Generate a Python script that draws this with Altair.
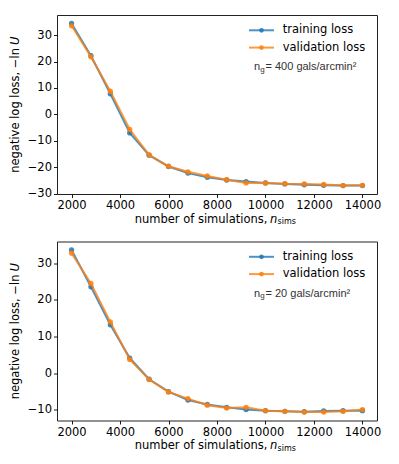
import altair as alt
import pandas as pd

# ---------------- data ----------------
n_sims = [2000, 2800, 3600, 4400, 5200, 6000, 6800, 7600, 8400, 9200,
          10000, 10800, 11600, 12400, 13200, 14000]

train_400 = [34.4, 22.2, 7.8, -7.0, -15.4, -19.7, -22.2, -23.8, -24.8, -25.4,
             -25.9, -26.3, -26.6, -26.8, -26.9, -26.9]
valid_400 = [33.5, 21.8, 8.8, -5.7, -15.3, -19.6, -21.7, -23.3, -24.7, -25.9,
             -25.9, -26.2, -26.3, -26.5, -26.9, -26.8]

train_20 = [33.7, 23.6, 13.2, 4.1, -1.7, -5.1, -7.4, -8.6, -9.4, -10.0,
            -10.3, -10.5, -10.6, -10.4, -10.3, -10.3]
valid_20 = [32.8, 24.5, 14.0, 3.7, -1.8, -5.2, -7.0, -8.8, -9.6, -9.4,
            -10.3, -10.5, -10.7, -10.7, -10.5, -10.0]

series_names = ["training loss", "validation loss"]
series_colors = ["#1f77b4", "#ff7f0e"]

x_ticks = [2000, 4000, 6000, 8000, 10000, 12000, 14000]
y_ticks_400 = [-30, -20, -10, 0, 10, 20, 30]
y_ticks_20 = [-10, 0, 10, 20, 30]

W, H = 320, 179
FONT = "DejaVu Sans"
FS = 11.5


def one(d):
    return pd.DataFrame([d])


def axis(vals):
    return alt.Axis(values=vals, format="d", title=None, grid=False, domain=False,
                    tickColor="black", tickSize=3.5, tickWidth=0.9,
                    labelFont=FONT, labelFontSize=FS, labelColor="black", labelPadding=2)


def panel(train, valid, y_domain, y_ticks, ng_value):
    df = pd.DataFrame({
        "n": n_sims * 2,
        "loss": train + valid,
        "series": [series_names[0]] * len(n_sims) + [series_names[1]] * len(n_sims),
    })
    x = alt.X("n:Q", scale=alt.Scale(domain=[1400, 14600], nice=False, zero=False),
              axis=axis(x_ticks))
    y = alt.Y("loss:Q", scale=alt.Scale(domain=y_domain, nice=False, zero=False),
              axis=axis(y_ticks))
    color = alt.Color("series:N", scale=alt.Scale(domain=series_names, range=series_colors),
                      legend=None)
    base = alt.Chart(df).encode(x=x, y=y, color=color, order=alt.Order("n:Q"))
    layers = []
    for s in series_names:
        sub = base.transform_filter(alt.datum.series == s)
        layers.append(sub.mark_line(strokeWidth=2, opacity=0.8))
        layers.append(sub.mark_point(filled=True, size=28, opacity=0.85))

    # legend (manual)
    leg_y = [15.3, 32.6]
    for name, col, yy in zip(series_names, series_colors, leg_y):
        layers.append(alt.Chart(one({"a": 1})).mark_rule(color=col, strokeWidth=2, opacity=0.8)
                      .encode(x=alt.value(192), x2=alt.value(217), y=alt.value(yy)))
        layers.append(alt.Chart(one({"a": 1})).mark_point(filled=True, size=22, color=col, opacity=0.85)
                      .encode(x=alt.value(204.5), y=alt.value(yy)))
        layers.append(alt.Chart(one({"t": name})).mark_text(align="left", baseline="middle",
                                                              font=FONT, fontSize=FS, color="black")
                      .encode(x=alt.value(225.7), y=alt.value(yy), text="t:N"))

    # n_g annotation
    ax = 197
    ay = 52
    layers.append(alt.Chart(one({"t": "n"})).mark_text(align="left", baseline="middle",
                                                     font="Liberation Sans", fontSize=11, color="#333")
                  .encode(x=alt.value(ax), y=alt.value(ay), text="t:N"))
    layers.append(alt.Chart(one({"t": "g"})).mark_text(align="left", baseline="middle",
                                                     font="Liberation Sans", fontSize=8, color="#333")
                  .encode(x=alt.value(ax + 6.2), y=alt.value(ay + 2.5), text="t:N"))
    layers.append(alt.Chart(one({"t": f"= {ng_value} gals/arcmin\u00b2"})).mark_text(
        align="left", baseline="middle", font="Liberation Sans", fontSize=11, color="#333")
                  .encode(x=alt.value(ax + 11.5), y=alt.value(ay), text="t:N"))

    # x title
    xt_y = H + 25.5
    layers.append(alt.Chart(one({"t": "number of simulations,"})).mark_text(
        align="right", baseline="middle", font=FONT, fontSize=FS, color="black")
                  .encode(x=alt.value(210.5), y=alt.value(xt_y), text="t:N"))
    layers.append(alt.Chart(one({"t": "n"})).mark_text(
        align="left", baseline="middle", font=FONT, fontSize=FS, fontStyle="italic", color="black")
                  .encode(x=alt.value(213), y=alt.value(xt_y), text="t:N"))
    layers.append(alt.Chart(one({"t": "sims"})).mark_text(
        align="left", baseline="middle", font=FONT, fontSize=8, color="black")
                  .encode(x=alt.value(220.5), y=alt.value(xt_y + 2.5), text="t:N"))

    # y title (rotated)
    yt_x = -41
    layers.append(alt.Chart(one({"t": "negative log loss, \u2212ln"})).mark_text(
        align="right", baseline="middle", angle=270, font=FONT, fontSize=FS, color="black")
                  .encode(x=alt.value(yt_x), y=alt.value(33.0), text="t:N"))
    layers.append(alt.Chart(one({"t": "U"})).mark_text(
        align="right", baseline="middle", angle=270, font=FONT, fontSize=FS, fontStyle="italic",
        color="black")
                  .encode(x=alt.value(yt_x), y=alt.value(21.5), text="t:N"))

    return alt.layer(*layers).properties(width=W, height=H)


top = panel(train_400, valid_400, [-30.1, 37.6], y_ticks_400, 400)
bottom = panel(train_20, valid_20, [-13.0, 36.0], y_ticks_20, 20)

chart = alt.vconcat(top, bottom, spacing=13.5).properties(
    padding={"left": 1, "top": 6, "right": 5, "bottom": 5},
    background="white"
).configure_view(
    stroke="#222", strokeWidth=1
)

chart.save("out.html", embed_options={"renderer": "svg", "actions": False})
